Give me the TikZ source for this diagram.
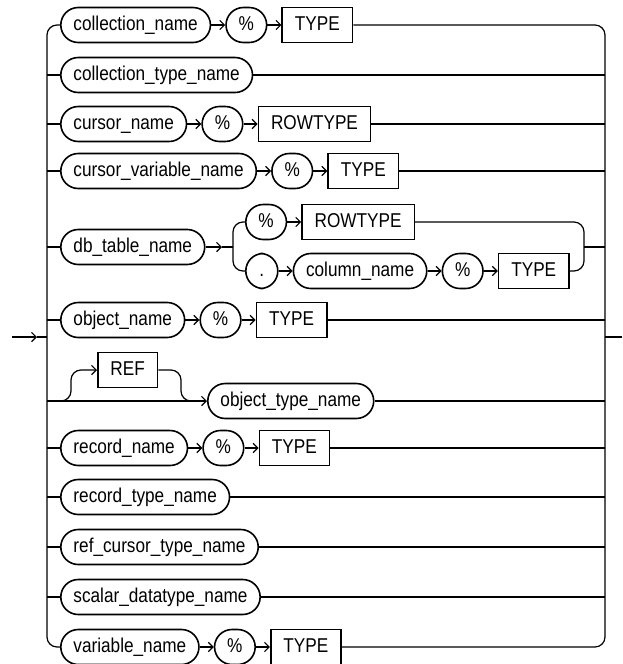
\documentclass[tikz,border=0pt]{standalone}
\usepackage{fontspec}
\setmainfont{Liberation Sans}[FakeStretch=0.86]
\usetikzlibrary{arrows.meta,positioning}
\begin{document}
\begin{tikzpicture}[x=0.75pt,y=-0.75pt,
  base/.style={draw, line width=1.2pt, minimum height=26.25pt, inner xsep=9.5pt, inner ysep=0pt,
    text height=10.9pt, text depth=3.1pt, font=\fontsize{15pt}{17pt}\selectfont},
  term/.style={base, rounded corners=13.1pt, minimum width=26.25pt},
  kw/.style={base},
  conn/.style={line width=0.9pt},
  arr/.style={conn, -{Straight Barb[length=3.5pt,width=7pt]}},
  rc/.style={conn, rounded corners=7.5pt},
  node distance=10.5pt]
\useasboundingbox (0,0) rectangle (622,664);
\coordinate (lb) at (47,0);
\coordinate (rb) at (605,0);
\coordinate (in) at (47,337);
\coordinate (out) at (605,337);
\coordinate (s0) at (12,337);
\coordinate (s1) at (37,337);
\coordinate (x0) at (622,337);

% row 1
\node[term, anchor=west] (a1) at (60,25) {collection\_name};
\node[term, right=of a1] (a2) {\%};
\node[kw, right=of a2] (a3) {TYPE};
\draw[arr] (a1) -- (a2); \draw[arr] (a2) -- (a3);
% row 2
\node[term, anchor=west] (b1) at (60,75) {collection\_type\_name};
% row 3
\node[term, anchor=west] (c1) at (60,124) {cursor\_name};
\node[term, right=of c1] (c2) {\%};
\node[kw, right=of c2] (c3) {ROWTYPE};
\draw[arr] (c1) -- (c2); \draw[arr] (c2) -- (c3);
% row 4
\node[term, anchor=west] (d1) at (60,171) {cursor\_variable\_name};
\node[term, right=of d1] (d2) {\%};
\node[kw, right=of d2] (d3) {TYPE};
\draw[arr] (d1) -- (d2); \draw[arr] (d2) -- (d3);
% row 5
\node[term, anchor=west] (e1) at (60,247) {db\_table\_name};
\coordinate (ea) at (222,247);
\coordinate (ef) at (233,247);
\coordinate (ej) at (584,247);
\node[term, anchor=west] (e2) at (245,222) {\%};
\node[kw, right=of e2] (e3) {ROWTYPE};
\node[term, anchor=west, minimum width=24pt] (e4) at (245,271) {.};
\node[term, right=of e4] (e5) {column\_name};
\node[term, right=of e5] (e6) {\%};
\node[kw, right=of e6] (e7) {TYPE};
\draw[arr] (e1) -- (ea); \draw[conn] (ea) -- (ef);
\draw[rc] (ef) |- (e2.west);
\draw[rc] (ef) |- (e4.west);
\draw[arr] (e2) -- (e3);
\draw[arr] (e4) -- (e5); \draw[arr] (e5) -- (e6); \draw[arr] (e6) -- (e7);
\draw[rc] (e3.east) -| (ej);
\draw[rc] (e7.east) -| (ej);
\draw[conn] (ej) -- (ej -| rb);
% row 6
\node[term, anchor=west] (f1) at (60,320) {object\_name};
\node[term, right=of f1] (f2) {\%};
\node[kw, right=of f2] (f3) {TYPE};
\draw[arr] (f1) -- (f2); \draw[arr] (f2) -- (f3);
% row 7
\node[kw, anchor=west] (g1) at (97,370) {REF};
\node[term, anchor=west] (g2) at (207,401) {object\_type\_name};
\coordinate (gl) at (60,401);
\coordinate (gr) at (192,401);
\draw[arr] (g2 -| lb) -- (g2.west);
\draw[arr, rounded corners=7.5pt] (gl) -| (71,370) -- (g1.west);
\draw[rc] (g1.east) -| (181,401) -- (gr);
% row 8
\node[term, anchor=west] (h1) at (60,448) {record\_name};
\node[term, right=of h1] (h2) {\%};
\node[kw, right=of h2] (h3) {TYPE};
\draw[arr] (h1) -- (h2); \draw[arr] (h2) -- (h3);
% rows 9-11
\node[term, anchor=west] (i1) at (60,497) {record\_type\_name};
\node[term, anchor=west] (j1) at (60,547) {ref\_cursor\_type\_name};
\node[term, anchor=west] (k1) at (60,597) {scalar\_datatype\_name};
% row 12
\node[term, anchor=west] (m1) at (60,647) {variable\_name};
\node[term, right=of m1] (m2) {\%};
\node[kw, right=of m2] (m3) {TYPE};
\draw[arr] (m1) -- (m2); \draw[arr] (m2) -- (m3);

% left bus
\draw[rc] (in) |- (a1.west);
\draw[rc] (in) |- (m1.west);
\foreach \n in {b1,c1,d1,e1,f1,h1,i1,j1,k1}
  \draw[conn] (\n.west -| lb) -- (\n.west);
% right bus
\draw[rc] (a3.east) -| (out);
\draw[rc] (m3.east) -| (out);
\foreach \n in {b1,c3,d3,f3,g2,h3,i1,j1,k1}
  \draw[conn] (\n.east) -- (\n.east -| rb);
% entry and exit
\draw[arr] (s0) -- (s1);
\draw[conn] (s1) -- (in);
\draw[conn] (out) -- (x0);
\end{tikzpicture}
\end{document}
